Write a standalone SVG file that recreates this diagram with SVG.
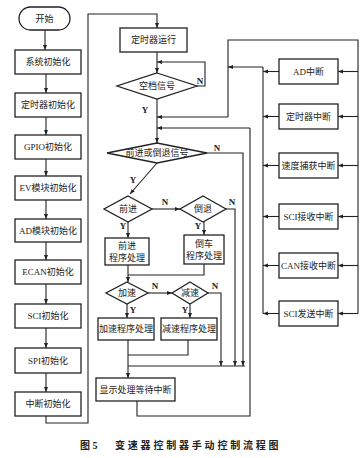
<svg xmlns="http://www.w3.org/2000/svg" width="360" height="458" viewBox="0 0 360 458">
<defs>
<marker id="ah" viewBox="0 0 10 10" refX="10" refY="5" markerWidth="5" markerHeight="5" orient="auto" markerUnits="userSpaceOnUse">
<path d="M0,1 L10,5 L0,9 z" fill="#222"/>
</marker>
</defs>
<style>
.n{fill:#fff;stroke:#222;stroke-width:1.3}
.t{font-family:"Liberation Serif","Noto Sans CJK SC",serif;font-size:9px;fill:#222;text-anchor:middle}
.l{font-family:"Liberation Serif",serif;font-size:9px;font-weight:bold;fill:#222;text-anchor:middle}
.c{fill:none;stroke:#222;stroke-width:1.1}
.a{fill:none;stroke:#222;stroke-width:1.1;marker-end:url(#ah)}
.cap{font-family:"Liberation Serif","Noto Sans CJK SC",serif;font-size:10px;font-weight:bold;fill:#222}
</style>
<rect width="360" height="458" fill="#fff"/>
<g id="connectors">
<path class="a" d="M45,30 V50"/>
<path class="a" d="M46,74 V93"/>
<path class="a" d="M46,117 V135"/>
<path class="a" d="M46,159 V176"/>
<path class="a" d="M46,200 V219"/>
<path class="a" d="M46,242 V260"/>
<path class="a" d="M46,284 V304"/>
<path class="a" d="M46,328 V348"/>
<path class="a" d="M46,373 V392"/>
<path class="a" d="M46,416 V423 H88 V14 H157 V28"/>
<path class="a" d="M157,52 V73"/>
<path class="a" d="M197,86 H205 V62 H157"/>
<path class="a" d="M157,99 V143"/>
<path class="c" d="M228,117 H160"/>
<path class="a" d="M160,117 H157"/>
<path class="c" d="M250,128 H160"/>
<path class="a" d="M160,128 H157"/>
<path class="a" d="M157,163 L130,194"/>
<path class="a" d="M152,209 H180"/>
<path class="a" d="M128,222 V238"/>
<path class="a" d="M204,222 V235"/>
<path class="c" d="M204,264 V275 H128"/>
<path class="a" d="M128,265 V282"/>
<path class="a" d="M148,293 H172"/>
<path class="a" d="M127,304 V318"/>
<path class="a" d="M190,304 V318"/>
<path class="c" d="M188,340 V355 H128"/>
<path class="a" d="M128,340 V378"/>
<path class="c" d="M128,366 H245"/>
<path class="a" d="M208,293 H221 V366"/>
<path class="a" d="M226,209 H235 V366"/>
<path class="a" d="M207,153 H243 V366"/>
<path class="c" d="M137,401 V416 H250 V128"/>
<path class="c" d="M228,117 V40 H358 V313.5"/>
<path class="a" d="M263,67 H228"/>
<path class="c" d="M263,67 V313.5"/>
<path class="a" d="M358,71.5 H338"/>
<path class="a" d="M358,116.5 H338"/>
<path class="a" d="M358,165.5 H338"/>
<path class="a" d="M358,216.5 H338"/>
<path class="a" d="M358,265.5 H338"/>
<path class="a" d="M358,313.5 H338"/>
<path class="a" d="M279,71.5 H263"/>
<path class="a" d="M279,116.5 H263"/>
<path class="a" d="M279,165.5 H263"/>
<path class="a" d="M279,216.5 H263"/>
<path class="a" d="M279,265.5 H263"/>
<path class="a" d="M279,313.5 H263"/>
</g>
<g id="start"><rect class="n" x="19" y="7" width="51" height="23" rx="11.5"/><text class="t" x="44.5" y="21.5">开始</text></g>
<g id="init-sys"><rect class="n" x="15" y="50" width="66" height="24"/><text class="t" x="48" y="65">系统初始化</text></g>
<g id="init-timer"><rect class="n" x="15" y="93" width="66" height="24"/><text class="t" x="48" y="108">定时器初始化</text></g>
<g id="init-gpio"><rect class="n" x="15" y="135" width="66" height="24"/><text class="t" x="48" y="150">GPIO初始化</text></g>
<g id="init-ev"><rect class="n" x="15" y="176" width="66" height="24"/><text class="t" x="48" y="191">EV模块初始化</text></g>
<g id="init-ad"><rect class="n" x="15" y="219" width="66" height="23"/><text class="t" x="48" y="233.5">AD模块初始化</text></g>
<g id="init-ecan"><rect class="n" x="15" y="260" width="66" height="24"/><text class="t" x="48" y="275">ECAN初始化</text></g>
<g id="init-sci"><rect class="n" x="15" y="304" width="66" height="24"/><text class="t" x="48" y="319">SCI初始化</text></g>
<g id="init-spi"><rect class="n" x="15" y="348" width="66" height="25"/><text class="t" x="48" y="363.5">SPI初始化</text></g>
<g id="init-int"><rect class="n" x="15" y="392" width="66" height="24"/><text class="t" x="48" y="407">中断初始化</text></g>
<g id="timer-run"><rect class="n" x="120" y="28" width="67" height="24"/><text class="t" x="153.5" y="43">定时器运行</text></g>
<g id="neutral"><polygon class="n" points="157,73 197,86 157,99 117,86"/><text class="t" x="157" y="89">空档信号</text></g>
<g id="fwd-rev"><polygon class="n" points="157,143 207,153 157,163 107,153"/><text class="t" x="157" y="156">前进或倒退信号</text></g>
<g id="fwd"><polygon class="n" points="128,196 152,209 128,222 104,209"/><text class="t" x="128" y="212">前进</text></g>
<g id="rev"><polygon class="n" points="203,196 226,209 203,222 180,209"/><text class="t" x="203" y="212">倒退</text></g>
<g id="fwd-proc"><rect class="n" x="105" y="238" width="44" height="27"/><text class="t" x="127" y="249">前进</text><text class="t" x="127" y="261">程序处理</text></g>
<g id="rev-proc"><rect class="n" x="184" y="235" width="40" height="29"/><text class="t" x="204" y="247">倒车</text><text class="t" x="204" y="259">程序处理</text></g>
<g id="acc"><polygon class="n" points="127,282 148,293 127,304 106,293"/><text class="t" x="127" y="296">加速</text></g>
<g id="dec"><polygon class="n" points="190,282 208,293 190,304 172,293"/><text class="t" x="190" y="296">减速</text></g>
<g id="acc-proc"><rect class="n" x="98" y="318" width="56" height="22"/><text class="t" x="126" y="332">加速程序处理</text></g>
<g id="dec-proc"><rect class="n" x="161" y="318" width="56" height="22"/><text class="t" x="189" y="332">减速程序处理</text></g>
<g id="display"><rect class="n" x="96" y="378" width="79" height="23"/><text class="t" x="135.5" y="392.5">显示处理等待中断</text></g>
<g id="int-ad"><rect class="n" x="279" y="59" width="59" height="25"/><text class="t" x="308.5" y="74.5">AD中断</text></g>
<g id="int-timer"><rect class="n" x="279" y="104" width="59" height="25"/><text class="t" x="308.5" y="119.5">定时器中断</text></g>
<g id="int-cap"><rect class="n" x="279" y="153" width="59" height="25"/><text class="t" x="308.5" y="168.5">速度捕获中断</text></g>
<g id="int-scirx"><rect class="n" x="279" y="204" width="59" height="25"/><text class="t" x="308.5" y="219.5">SCI接收中断</text></g>
<g id="int-canrx"><rect class="n" x="279" y="253" width="59" height="25"/><text class="t" x="308.5" y="268.5">CAN接收中断</text></g>
<g id="int-scitx"><rect class="n" x="279" y="301" width="59" height="25"/><text class="t" x="308.5" y="316.5">SCI发送中断</text></g>
<g id="labels">
<text class="l" x="200" y="84">N</text>
<text class="l" x="145" y="113">Y</text>
<text class="l" x="217" y="151">N</text>
<text class="l" x="133" y="183">Y</text>
<text class="l" x="165" y="205">N</text>
<text class="l" x="232" y="205">N</text>
<text class="l" x="123" y="229">Y</text>
<text class="l" x="198" y="229">Y</text>
<text class="l" x="155" y="289">N</text>
<text class="l" x="215" y="289">N</text>
<text class="l" x="133" y="313">Y</text>
<text class="l" x="185" y="313">Y</text>
</g>
<text class="cap" x="80" y="449">图 5</text>
<text class="cap" x="115" y="449" letter-spacing="2.8">变速器控制器手动控制流程图</text>
</svg>
